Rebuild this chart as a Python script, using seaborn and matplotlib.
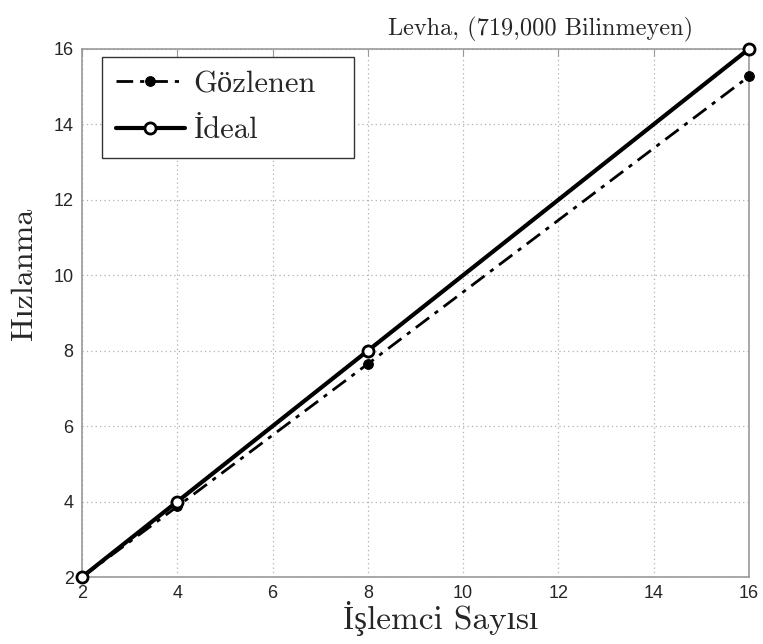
import numpy as np
import pandas as pd
import matplotlib
matplotlib.use("Agg")
import matplotlib.pyplot as plt
import seaborn as sns

# =====================================
# Data
# =====================================
processors = [2, 4, 8, 16]
observed = [2.0, 3.87, 7.65, 15.27]
ideal = [2, 4, 8, 16]
series_names = ["Gözlenen", "İdeal"]

df = pd.DataFrame({
    "p": processors * 2,
    "speedup": observed + ideal,
    "series": [series_names[0]] * 4 + [series_names[1]] * 4,
})

sns.set_style("white")
serif = ["cmr10", "Liberation Serif"]
plt.rcParams["font.family"] = ["Liberation Sans", "DejaVu Sans"]

fig = plt.figure(figsize=(7.63, 6.44), dpi=100)
ax = fig.add_axes([0.1075, 0.104, 0.874, 0.820])

sns.lineplot(data=df[df.series == series_names[0]], x="p", y="speedup",
             color="black", lw=2, marker="o", markersize=7,
             markerfacecolor="black", markeredgecolor="black",
             ax=ax, label=series_names[0], clip_on=False, zorder=3)
ax.lines[-1].set_linestyle((0, (6, 2.5, 1.5, 2.5)))
sns.lineplot(data=df[df.series == series_names[1]], x="p", y="speedup",
             color="black", lw=3, marker="o", markersize=8,
             markerfacecolor="white", markeredgecolor="black", markeredgewidth=2,
             ax=ax, label=series_names[1], clip_on=False, zorder=3)

ax.set_xlim(2, 16)
ax.set_ylim(2, 16)
ax.set_xticks(np.arange(2, 17, 2))
ax.set_yticks(np.arange(2, 17, 2))
ax.grid(True, linestyle=(0, (1, 2.5)), color="#b0b0b0", lw=0.9)
for s in ax.spines.values():
    s.set_color("#999999")
    s.set_linewidth(1.2)
ax.tick_params(axis="x", direction="in", top=True, length=5, color="#999999",
               labelsize=13, pad=6)
ax.tick_params(axis="y", direction="out", length=4, color="#999999",
               labelsize=13, pad=2)

ax.set_xlabel("İşlemci Sayısı", family=serif, fontsize=24)
ax.xaxis.set_label_coords(0.537, -0.046, transform=ax.transAxes)
ax.set_ylabel("Hızlanma", family=serif, fontsize=23)
ax.yaxis.set_label_coords(-0.066, 0.574, transform=ax.transAxes)
ax.text(0.688, 1.025, "Levha, (719,000 Bilinmeyen)", transform=ax.transAxes,
        ha="center", va="baseline", family=serif, fontsize=17.5)

leg = ax.legend(loc="upper left", bbox_to_anchor=(0.03, 0.2, 0.378, 0.785),
                mode="expand", borderaxespad=0,
                prop={"family": serif, "size": 22}, fancybox=False,
                handlelength=2.25, framealpha=1, borderpad=0.45, labelspacing=0.62,
                handletextpad=0.3)
leg.get_frame().set_edgecolor("#333333")
leg.get_frame().set_linewidth(1.0)

plt.savefig("out.png", dpi=100)
